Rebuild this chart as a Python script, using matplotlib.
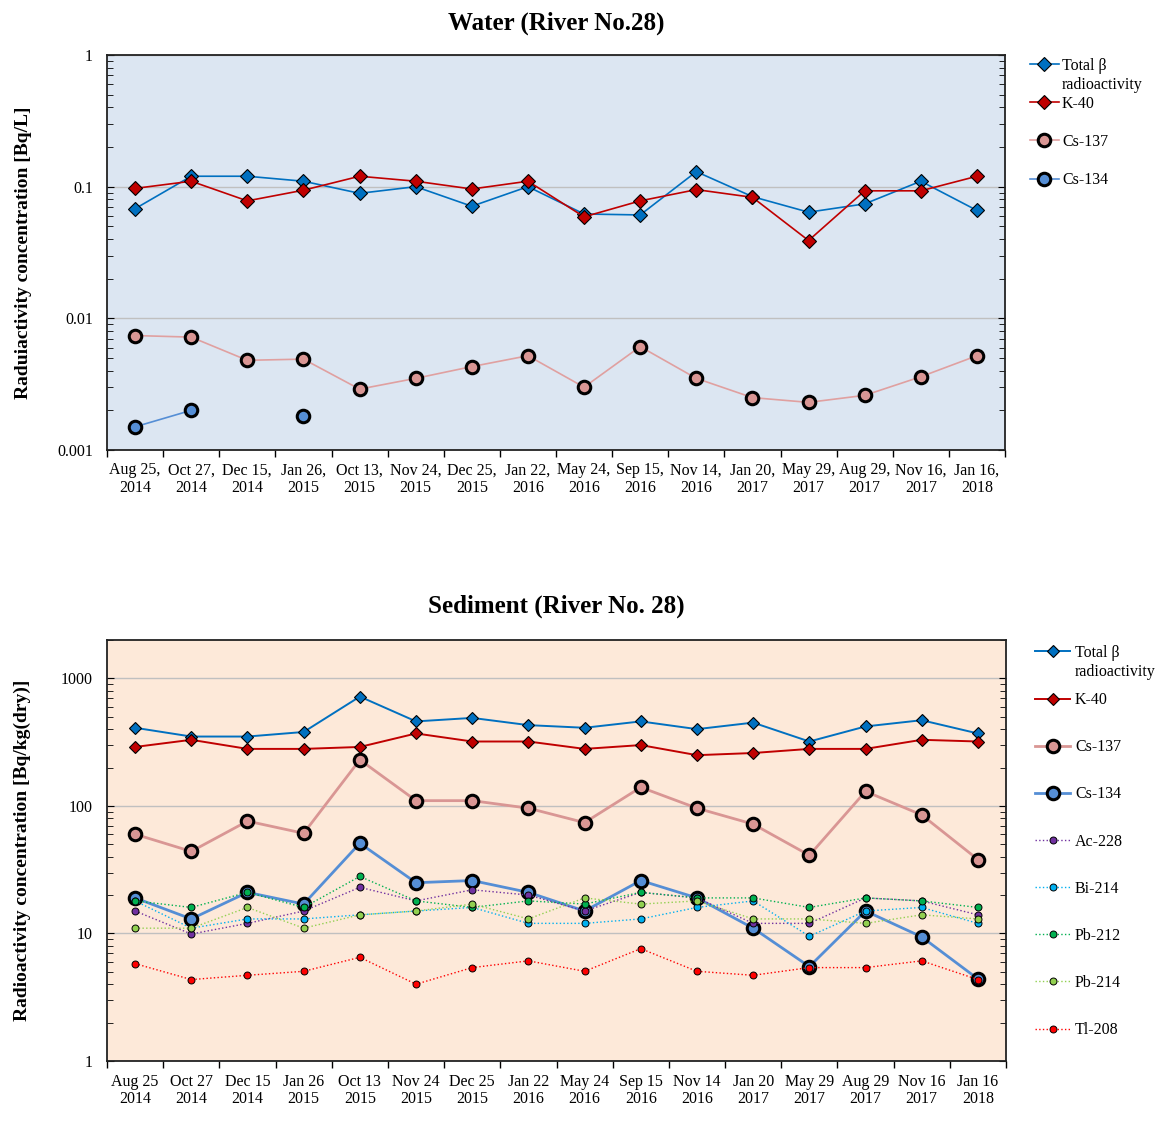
import numpy as np
import matplotlib
matplotlib.use("Agg")
import matplotlib.pyplot as plt
from matplotlib.ticker import FixedLocator, LogLocator, NullFormatter

plt.rcParams['font.family'] = ['Liberation Serif', 'DejaVu Serif']

# sampling dates (month day, year)
dates = ["Aug 25", "Oct 27", "Dec 15", "Jan 26", "Oct 13", "Nov 24", "Dec 25", "Jan 22",
         "May 24", "Sep 15", "Nov 14", "Jan 20", "May 29", "Aug 29", "Nov 16", "Jan 16"]
years = ["2014", "2014", "2014", "2015", "2015", "2015", "2015", "2016",
         "2016", "2016", "2016", "2017", "2017", "2017", "2017", "2018"]

# water, Bq/L
w_beta = [0.068, 0.12, 0.12, 0.11, 0.089, 0.1, 0.071, 0.1,
          0.062, 0.061, 0.13, 0.084, 0.064, 0.074, 0.11, 0.066]
w_k40 = [0.097, 0.11, 0.078, 0.094, 0.12, 0.11, 0.096, 0.11,
         0.059, 0.078, 0.095, 0.083, 0.039, 0.093, 0.093, 0.12]
w_cs137 = [0.0074, 0.0072, 0.0048, 0.0049, 0.0029, 0.0035, 0.0043, 0.0052,
           0.0030, 0.0061, 0.0035, 0.0025, 0.0023, 0.0026, 0.0036, 0.0052]
w_cs134 = [0.0015, 0.0020, np.nan, 0.0018, np.nan, np.nan, np.nan, np.nan,
           np.nan, np.nan, np.nan, np.nan, np.nan, np.nan, np.nan, np.nan]

# sediment, Bq/kg(dry)
s_beta = [410, 350, 350, 380, 720, 460, 490, 430, 410, 460, 400, 450, 320, 420, 470, 370]
s_k40 = [290, 330, 280, 280, 290, 370, 320, 320, 280, 300, 250, 260, 280, 280, 330, 320]
s_cs137 = [60, 44, 76, 61, 230, 110, 110, 96, 74, 140, 96, 72, 41, 130, 85, 38]
s_cs134 = [19, 13, 21, 17, 51, 25, 26, 21, 15, 26, 19, 11, 5.5, 15, 9.4, 4.4]
s_ac228 = [15, 9.9, 12, 15, 23, 18, 22, 20, 15, 21, 19, 12, 12, 19, 18, 14]
s_bi214 = [18, 11, 13, 13, 14, 15, 16, 12, 12, 13, 16, 18, 9.5, 15, 16, 12]
s_pb212 = [18, 16, 21, 16, 28, 18, 16, 18, 17, 21, 19, 19, 16, 19, 18, 16]
s_pb214 = [11, 11, 16, 11, 14, 15, 17, 13, 19, 17, 18, 13, 13, 12, 14, 13]
s_tl208 = [5.8, 4.35, 4.7, 5.05, 6.5, 4.0, 5.4, 6.1, 5.05, 7.6, 5.05, 4.7, 5.4, 5.4, 6.1, 4.35]

x = np.arange(len(dates))

fig = plt.figure(figsize=(11.61, 11.24), dpi=100)
ax1 = fig.add_axes([107 / 1161, 1 - 450 / 1124, 898 / 1161, 395 / 1124])
ax2 = fig.add_axes([107 / 1161, 1 - 1061 / 1124, 899 / 1161, 421 / 1124])


def style_axes(ax, face, labels, ylim):
    ax.set_facecolor(face)
    ax.set_yscale('log')
    ax.set_ylim(*ylim)
    ax.set_xlim(-0.5, len(labels) - 0.5)
    ax.set_xticks(x)
    ax.set_xticklabels(labels, fontsize=11.5, linespacing=1.15)
    ax.xaxis.set_minor_locator(FixedLocator(np.arange(-0.5, len(labels), 1.0)))
    ax.tick_params(axis='x', which='major', length=0, pad=9)
    ax.tick_params(axis='x', which='minor', length=5, direction='out', width=1)
    ax.yaxis.set_major_locator(LogLocator(base=10))
    ax.yaxis.set_minor_locator(LogLocator(base=10, subs=np.arange(2, 10)))
    ax.yaxis.set_minor_formatter(NullFormatter())
    ax.yaxis.set_major_formatter(plt.FuncFormatter(lambda v, p: f"{v:g}"))
    ax.tick_params(axis='y', which='both', direction='in', left=True, right=True,
                   labelsize=11.5, pad=10)
    ax.tick_params(axis='y', which='major', length=5)
    ax.tick_params(axis='y', which='minor', length=4)
    ax.grid(axis='y', which='major', color='#c0c0c0', linewidth=1)
    ax.set_axisbelow(True)
    for s in ax.spines.values():
        s.set_linewidth(1.3)
        s.set_color('#222222')


# --- water ---
style_axes(ax1, '#dce6f2', [f"{d},\n{y}" for d, y in zip(dates, years)], (0.001, 1))
ax1.plot(x, w_beta, color='#0070c0', lw=1.2, marker='D', ms=7, mfc='#0070c0', mec='black', mew=0.8,
         label='Total β')
ax1.plot(x, w_k40, color='#c00000', lw=1.2, marker='D', ms=7, mfc='#c00000', mec='black', mew=0.8,
         label='K-40')
ax1.plot(x, w_cs137, color='#e0a0a0', lw=1.2, marker='o', ms=9, mfc='#d99694', mec='black', mew=2.2,
         label='Cs-137')
ax1.plot(x, w_cs134, color='#558ed5', lw=1.2, marker='o', ms=9, mfc='#558ed5', mec='black', mew=2.2,
         label='Cs-134')
ax1.set_title('Water (River No.28)', fontsize=18, fontweight='bold', pad=18)
ax1.set_ylabel('Raduiactivity concentration [Bq/L]', fontsize=14, fontweight='bold', labelpad=18)

leg1 = ax1.legend(loc='upper left', bbox_to_anchor=(1030 / 1161, 1 - 58 / 1124),
                  bbox_transform=fig.transFigure, frameon=False, fontsize=11.5, borderpad=0,
                  borderaxespad=0, labelspacing=1.38, handlelength=1.8, handletextpad=0.2)

# --- sediment ---
style_axes(ax2, '#fde9d9', [f"{d}\n{y}" for d, y in zip(dates, years)], (1, 2000))
ax2.plot(x, s_beta, color='#0070c0', lw=1.4, marker='D', ms=6, mfc='#0070c0', mec='black', mew=0.8,
         label='Total β')
ax2.plot(x, s_k40, color='#c00000', lw=1.4, marker='D', ms=6, mfc='#c00000', mec='black', mew=0.8,
         label='K-40')
ax2.plot(x, s_cs137, color='#d99694', lw=2, marker='o', ms=9, mfc='#d99694', mec='black', mew=2.2,
         label='Cs-137')
ax2.plot(x, s_cs134, color='#558ed5', lw=2, marker='o', ms=9, mfc='#558ed5', mec='black', mew=2.2,
         label='Cs-134')
dotted = [(s_ac228, '#7030a0', 'Ac-228'), (s_bi214, '#00b0f0', 'Bi-214'),
          (s_pb212, '#00b050', 'Pb-212'), (s_pb214, '#92d050', 'Pb-214'),
          (s_tl208, '#ff0000', 'Tl-208')]
for vals, c, name in dotted:
    ax2.plot(x, vals, color=c, lw=1, ls=':', marker='o', ms=5, mfc=c, mec='black', mew=0.7,
             label=name)
ax2.set_title('Sediment (River No. 28)', fontsize=18, fontweight='bold', pad=20)
ax2.set_ylabel('Radioactivity concentration [Bq/kg(dry)]', fontsize=14, fontweight='bold', labelpad=22)

leg2 = ax2.legend(loc='upper left', bbox_to_anchor=(1035 / 1161, 1 - 645 / 1124),
                  bbox_transform=fig.transFigure, frameon=False, fontsize=11.5, borderpad=0,
                  borderaxespad=0, labelspacing=1.95, handlelength=2.2, handletextpad=0.3)

# second line of the first legend label, hung under "Total β"
fig.canvas.draw()
for leg in (leg1, leg2):
    bb = leg.get_texts()[0].get_window_extent()
    fig.text(bb.x0 / fig.bbox.width, (bb.y0 - 3) / fig.bbox.height, 'radioactivity',
             va='top', ha='left', fontsize=11.5)

fig.savefig('out.png', dpi=100)
